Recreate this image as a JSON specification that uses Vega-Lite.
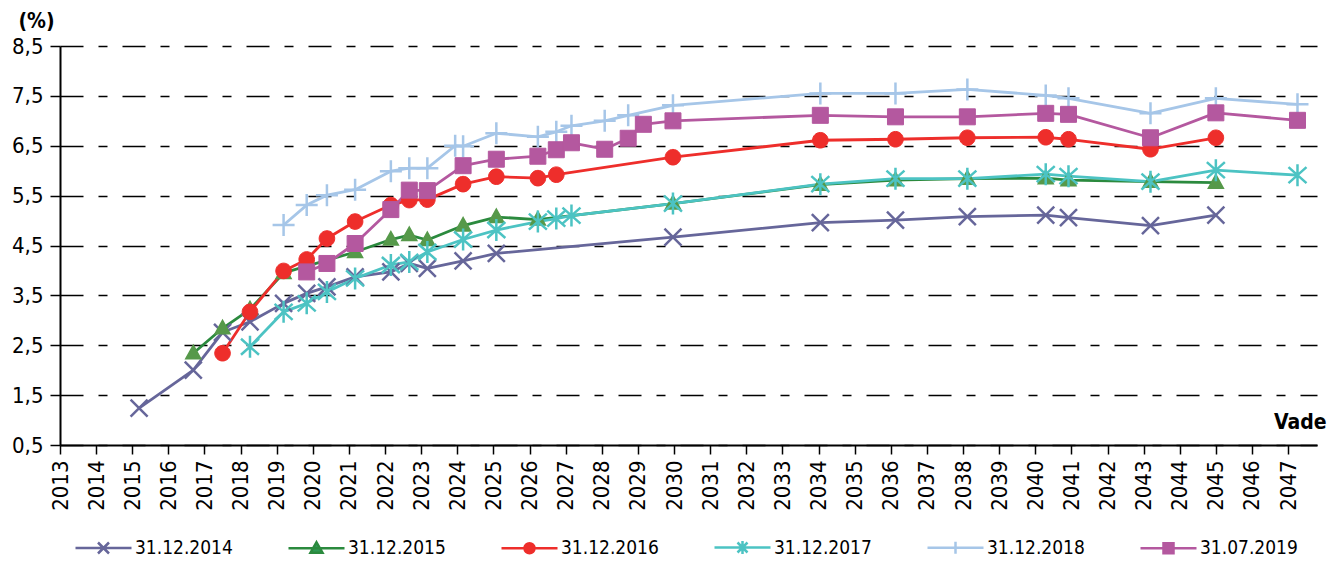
{
  "$schema": "https://vega.github.io/schema/vega-lite/v6.json",
  "autosize": {"type": "none"},
  "padding": {"left": 60, "top": 46, "right": 26, "bottom": 117},
  "width": 1257,
  "height": 399,
  "background": "white",
  "config": {
    "font": "DejaVu Sans Condensed",
    "view": {"stroke": null}
  },
  "data": {
    "values": [
      {"s": "31.12.2014", "x": 2015.19, "y": 1.24},
      {"s": "31.12.2014", "x": 2016.69, "y": 2.00},
      {"s": "31.12.2014", "x": 2017.50, "y": 2.76},
      {"s": "31.12.2014", "x": 2018.26, "y": 2.97},
      {"s": "31.12.2014", "x": 2019.19, "y": 3.34},
      {"s": "31.12.2014", "x": 2019.83, "y": 3.54},
      {"s": "31.12.2014", "x": 2020.39, "y": 3.67},
      {"s": "31.12.2014", "x": 2021.17, "y": 3.87},
      {"s": "31.12.2014", "x": 2022.16, "y": 3.97},
      {"s": "31.12.2014", "x": 2022.67, "y": 4.14},
      {"s": "31.12.2014", "x": 2023.17, "y": 4.04},
      {"s": "31.12.2014", "x": 2024.16, "y": 4.19},
      {"s": "31.12.2014", "x": 2025.08, "y": 4.34},
      {"s": "31.12.2014", "x": 2029.97, "y": 4.67},
      {"s": "31.12.2014", "x": 2034.05, "y": 4.96},
      {"s": "31.12.2014", "x": 2036.13, "y": 5.01},
      {"s": "31.12.2014", "x": 2038.12, "y": 5.08},
      {"s": "31.12.2014", "x": 2040.29, "y": 5.11},
      {"s": "31.12.2014", "x": 2040.92, "y": 5.06},
      {"s": "31.12.2014", "x": 2043.19, "y": 4.90},
      {"s": "31.12.2014", "x": 2045.00, "y": 5.11},

      {"s": "31.12.2015", "x": 2016.69, "y": 2.34},
      {"s": "31.12.2015", "x": 2017.50, "y": 2.84},
      {"s": "31.12.2015", "x": 2018.26, "y": 3.22},
      {"s": "31.12.2015", "x": 2019.19, "y": 3.95},
      {"s": "31.12.2015", "x": 2021.17, "y": 4.37},
      {"s": "31.12.2015", "x": 2022.16, "y": 4.62},
      {"s": "31.12.2015", "x": 2022.67, "y": 4.71},
      {"s": "31.12.2015", "x": 2023.17, "y": 4.61},
      {"s": "31.12.2015", "x": 2024.16, "y": 4.90},
      {"s": "31.12.2015", "x": 2025.08, "y": 5.07},
      {"s": "31.12.2015", "x": 2026.23, "y": 5.02},
      {"s": "31.12.2015", "x": 2029.97, "y": 5.34},
      {"s": "31.12.2015", "x": 2034.05, "y": 5.72},
      {"s": "31.12.2015", "x": 2036.13, "y": 5.81},
      {"s": "31.12.2015", "x": 2038.12, "y": 5.84},
      {"s": "31.12.2015", "x": 2040.29, "y": 5.85},
      {"s": "31.12.2015", "x": 2040.92, "y": 5.81},
      {"s": "31.12.2015", "x": 2043.19, "y": 5.78},
      {"s": "31.12.2015", "x": 2045.00, "y": 5.76},

      {"s": "31.12.2016", "x": 2017.50, "y": 2.34},
      {"s": "31.12.2016", "x": 2018.26, "y": 3.17},
      {"s": "31.12.2016", "x": 2019.19, "y": 3.99},
      {"s": "31.12.2016", "x": 2019.83, "y": 4.22},
      {"s": "31.12.2016", "x": 2020.39, "y": 4.64},
      {"s": "31.12.2016", "x": 2021.17, "y": 4.98},
      {"s": "31.12.2016", "x": 2022.16, "y": 5.31},
      {"s": "31.12.2016", "x": 2022.67, "y": 5.41},
      {"s": "31.12.2016", "x": 2023.17, "y": 5.42},
      {"s": "31.12.2016", "x": 2024.16, "y": 5.73},
      {"s": "31.12.2016", "x": 2025.08, "y": 5.88},
      {"s": "31.12.2016", "x": 2026.23, "y": 5.85},
      {"s": "31.12.2016", "x": 2026.74, "y": 5.92},
      {"s": "31.12.2016", "x": 2029.97, "y": 6.27},
      {"s": "31.12.2016", "x": 2034.05, "y": 6.61},
      {"s": "31.12.2016", "x": 2036.13, "y": 6.63},
      {"s": "31.12.2016", "x": 2038.12, "y": 6.66},
      {"s": "31.12.2016", "x": 2040.29, "y": 6.67},
      {"s": "31.12.2016", "x": 2040.92, "y": 6.63},
      {"s": "31.12.2016", "x": 2043.19, "y": 6.43},
      {"s": "31.12.2016", "x": 2045.00, "y": 6.66},

      {"s": "31.12.2017", "x": 2018.26, "y": 2.47},
      {"s": "31.12.2017", "x": 2019.19, "y": 3.17},
      {"s": "31.12.2017", "x": 2019.83, "y": 3.34},
      {"s": "31.12.2017", "x": 2020.39, "y": 3.57},
      {"s": "31.12.2017", "x": 2021.17, "y": 3.84},
      {"s": "31.12.2017", "x": 2022.16, "y": 4.11},
      {"s": "31.12.2017", "x": 2022.67, "y": 4.17},
      {"s": "31.12.2017", "x": 2023.17, "y": 4.37},
      {"s": "31.12.2017", "x": 2024.16, "y": 4.62},
      {"s": "31.12.2017", "x": 2025.08, "y": 4.81},
      {"s": "31.12.2017", "x": 2026.23, "y": 4.98},
      {"s": "31.12.2017", "x": 2026.74, "y": 5.04},
      {"s": "31.12.2017", "x": 2027.16, "y": 5.10},
      {"s": "31.12.2017", "x": 2029.97, "y": 5.34},
      {"s": "31.12.2017", "x": 2034.05, "y": 5.73},
      {"s": "31.12.2017", "x": 2036.13, "y": 5.84},
      {"s": "31.12.2017", "x": 2038.12, "y": 5.84},
      {"s": "31.12.2017", "x": 2040.29, "y": 5.93},
      {"s": "31.12.2017", "x": 2040.92, "y": 5.89},
      {"s": "31.12.2017", "x": 2043.19, "y": 5.78},
      {"s": "31.12.2017", "x": 2045.00, "y": 6.01},
      {"s": "31.12.2017", "x": 2047.26, "y": 5.91},

      {"s": "31.12.2018", "x": 2019.19, "y": 4.91},
      {"s": "31.12.2018", "x": 2019.83, "y": 5.31},
      {"s": "31.12.2018", "x": 2020.39, "y": 5.51},
      {"s": "31.12.2018", "x": 2021.17, "y": 5.62},
      {"s": "31.12.2018", "x": 2022.16, "y": 5.99},
      {"s": "31.12.2018", "x": 2022.67, "y": 6.05},
      {"s": "31.12.2018", "x": 2023.17, "y": 6.05},
      {"s": "31.12.2018", "x": 2023.94, "y": 6.50},
      {"s": "31.12.2018", "x": 2024.16, "y": 6.49},
      {"s": "31.12.2018", "x": 2025.08, "y": 6.75},
      {"s": "31.12.2018", "x": 2026.23, "y": 6.68},
      {"s": "31.12.2018", "x": 2026.74, "y": 6.78},
      {"s": "31.12.2018", "x": 2027.16, "y": 6.90},
      {"s": "31.12.2018", "x": 2028.08, "y": 7.00},
      {"s": "31.12.2018", "x": 2028.73, "y": 7.11},
      {"s": "31.12.2018", "x": 2029.97, "y": 7.31},
      {"s": "31.12.2018", "x": 2034.05, "y": 7.55},
      {"s": "31.12.2018", "x": 2036.13, "y": 7.55},
      {"s": "31.12.2018", "x": 2038.12, "y": 7.63},
      {"s": "31.12.2018", "x": 2040.29, "y": 7.51},
      {"s": "31.12.2018", "x": 2040.92, "y": 7.45},
      {"s": "31.12.2018", "x": 2043.19, "y": 7.15},
      {"s": "31.12.2018", "x": 2045.00, "y": 7.45},
      {"s": "31.12.2018", "x": 2047.26, "y": 7.33},

      {"s": "31.07.2019", "x": 2019.83, "y": 3.97},
      {"s": "31.07.2019", "x": 2020.39, "y": 4.14},
      {"s": "31.07.2019", "x": 2021.17, "y": 4.54},
      {"s": "31.07.2019", "x": 2022.16, "y": 5.22},
      {"s": "31.07.2019", "x": 2022.67, "y": 5.61},
      {"s": "31.07.2019", "x": 2023.17, "y": 5.60},
      {"s": "31.07.2019", "x": 2024.16, "y": 6.10},
      {"s": "31.07.2019", "x": 2025.08, "y": 6.23},
      {"s": "31.07.2019", "x": 2026.23, "y": 6.29},
      {"s": "31.07.2019", "x": 2026.74, "y": 6.42},
      {"s": "31.07.2019", "x": 2027.16, "y": 6.56},
      {"s": "31.07.2019", "x": 2028.08, "y": 6.43},
      {"s": "31.07.2019", "x": 2028.73, "y": 6.65},
      {"s": "31.07.2019", "x": 2029.15, "y": 6.93},
      {"s": "31.07.2019", "x": 2029.97, "y": 7.00},
      {"s": "31.07.2019", "x": 2034.05, "y": 7.11},
      {"s": "31.07.2019", "x": 2036.13, "y": 7.08},
      {"s": "31.07.2019", "x": 2038.12, "y": 7.08},
      {"s": "31.07.2019", "x": 2040.29, "y": 7.15},
      {"s": "31.07.2019", "x": 2040.92, "y": 7.13},
      {"s": "31.07.2019", "x": 2043.19, "y": 6.66},
      {"s": "31.07.2019", "x": 2045.00, "y": 7.16},
      {"s": "31.07.2019", "x": 2047.26, "y": 7.01}
    ]
  },
  "encoding": {
    "x": {
      "field": "x",
      "type": "quantitative",
      "scale": {"domain": [2013, 2047.8], "nice": false, "zero": false},
      "axis": {
        "values": [2013,2014,2015,2016,2017,2018,2019,2020,2021,2022,2023,2024,2025,2026,2027,2028,2029,2030,2031,2032,2033,2034,2035,2036,2037,2038,2039,2040,2041,2042,2043,2044,2045,2046,2047],
        "format": "d",
        "labelAngle": -90,
        "labelAlign": "right",
        "labelBaseline": "middle",
        "labelFontSize": 22,
        "labelColor": "#000000",
        "labelPadding": 6,
        "labelOverlap": false,
        "labelFlush": false,
        "tickSize": 9,
        "tickColor": "#000000",
        "tickWidth": 1.5,
        "domainColor": "#000000",
        "domainWidth": 2,
        "grid": false,
        "title": "Vade",
        "titleFontSize": 21,
        "titleFontWeight": "bold",
        "titleColor": "#000000",
        "titleAlign": "right",
        "titleAnchor": null,
        "titleBaseline": "alphabetic",
        "titleX": 1266,
        "titleY": -17
      }
    },
    "y": {
      "field": "y",
      "type": "quantitative",
      "scale": {"domain": [0.5, 8.5], "nice": false, "zero": false},
      "axis": {
        "values": [0.5,1.5,2.5,3.5,4.5,5.5,6.5,7.5,8.5],
        "labelExpr": "replace(format(datum.value, '.1f'), '.', ',')",
        "labelFontSize": 22,
        "labelColor": "#000000",
        "labelPadding": 7,
        "tickSize": 10,
        "tickColor": "#000000",
        "tickWidth": 1.5,
        "domainColor": "#000000",
        "domainWidth": 2,
        "grid": true,
        "gridColor": "#000000",
        "gridWidth": 1.3,
        "gridDash": [23, 15, 9, 15],
        "title": "(%)",
        "titleFontSize": 21,
        "titleFontWeight": "bold",
        "titleColor": "#000000",
        "titleAngle": 0,
        "titleAlign": "center",
        "titleBaseline": "alphabetic",
        "titleAnchor": null,
        "titleX": -24,
        "titleY": -19
      }
    }
  },
  "layer": [
    {
      "mark": {"type": "line", "strokeCap": "butt", "strokeJoin": "round", "strokeWidth": 2.8},
      "encoding": {
        "stroke": {
          "field": "s",
          "type": "nominal",
          "scale": {
            "domain": ["31.12.2014", "31.12.2015", "31.12.2016", "31.12.2017", "31.12.2018", "31.07.2019"],
            "range": ["#66669A", "#2B8A3E", "#EE2E2B", "#4CC3C3", "#A6C6E8", "#B4589F"]
          },
          "legend": {
            "title": null,
            "orient": "none",
            "legendX": 15,
            "legendY": 490,
            "direction": "horizontal",
            "columns": 6,
            "columnPadding": 50,
            "padding": 0,
            "symbolSize": 400,
            "symbolStrokeWidth": 2.5,
            "symbolOffset": 17,
            "labelOffset": 20,
            "labelFontSize": 19,
            "labelColor": "#000000",
            "labelLimit": 200,
            "encode": {
              "symbols": {
                "update": {
                  "shape": {"signal": "datum.value == '31.12.2014' ? 'M-2.8,0L2.8,0M-0.55,-0.55L0.55,0.55M-0.55,0.55L0.55,-0.55' : datum.value == '31.12.2015' ? 'M-2.8,0L2.8,0M0,-0.6L0.6,0.45L-0.6,0.45Z' : datum.value == '31.12.2016' ? 'M-2.8,0L2.8,0M-0.5,0A0.5,0.5,0,1,1,0.5,0A0.5,0.5,0,1,1,-0.5,0Z' : datum.value == '31.12.2017' ? 'M-2.8,0L2.8,0M-0.5,-0.5L0.5,0.5M-0.5,0.5L0.5,-0.5M0,-0.65L0,0.65' : datum.value == '31.12.2018' ? 'M-2.8,0L2.8,0M0,-0.6L0,0.6' : 'M-2.8,0L2.8,0M-0.5,-0.5L0.5,-0.5L0.5,0.5L-0.5,0.5Z'"},
                  "fill": {"signal": "datum.value == '31.12.2014' ? '#66669A' : datum.value == '31.12.2015' ? '#2E9A55' : datum.value == '31.12.2016' ? '#EE2E2B' : datum.value == '31.12.2017' ? '#4CC3C3' : datum.value == '31.12.2018' ? '#9DB3DA' : '#B4589F'"},
                  "fillOpacity": {"value": 1},
                  "opacity": {"value": 1}
                }
              }
            }
          }
        }
      }
    },
    {
      "transform": [{"filter": "datum.s == '31.12.2014'"}],
      "mark": {"type": "point", "shape": "M-0.85,-0.85L0.85,0.85M-0.85,0.85L0.85,-0.85", "filled": false, "stroke": "#66669A", "strokeWidth": 2.5, "size": 400, "opacity": 1}
    },
    {
      "transform": [{"filter": "datum.s == '31.12.2015'"}],
      "mark": {"type": "point", "shape": "M0,-0.8L0.75,0.55L-0.75,0.55Z", "filled": true, "fill": "#56994A", "stroke": "#56994A", "strokeWidth": 1.5, "size": 400, "opacity": 1}
    },
    {
      "transform": [{"filter": "datum.s == '31.12.2016'"}],
      "mark": {"type": "point", "shape": "M-0.78,0A0.78,0.78,0,1,1,0.78,0A0.78,0.78,0,1,1,-0.78,0Z", "filled": true, "fill": "#EE2E2B", "stroke": "#EE2E2B", "strokeWidth": 1, "size": 400, "opacity": 1}
    },
    {
      "transform": [{"filter": "datum.s == '31.12.2017'"}],
      "mark": {"type": "point", "shape": "M-0.9,-0.8L0.9,0.8M-0.9,0.8L0.9,-0.8M0,-1.1L0,1.1", "filled": false, "stroke": "#4CC3C3", "strokeWidth": 2.5, "size": 400, "opacity": 1}
    },
    {
      "transform": [{"filter": "datum.s == '31.12.2018'"}],
      "mark": {"type": "point", "shape": "M0,-1.1L0,1.1M-1.1,0L1.1,0", "filled": false, "stroke": "#A6C6E8", "strokeWidth": 2.5, "size": 400, "opacity": 1}
    },
    {
      "transform": [{"filter": "datum.s == '31.07.2019'"}],
      "mark": {"type": "point", "shape": "M-0.8,-0.8L0.8,-0.8L0.8,0.8L-0.8,0.8Z", "filled": true, "fill": "#B4589F", "stroke": "#B4589F", "strokeWidth": 1, "size": 400, "opacity": 1}
    }
  ]
}
